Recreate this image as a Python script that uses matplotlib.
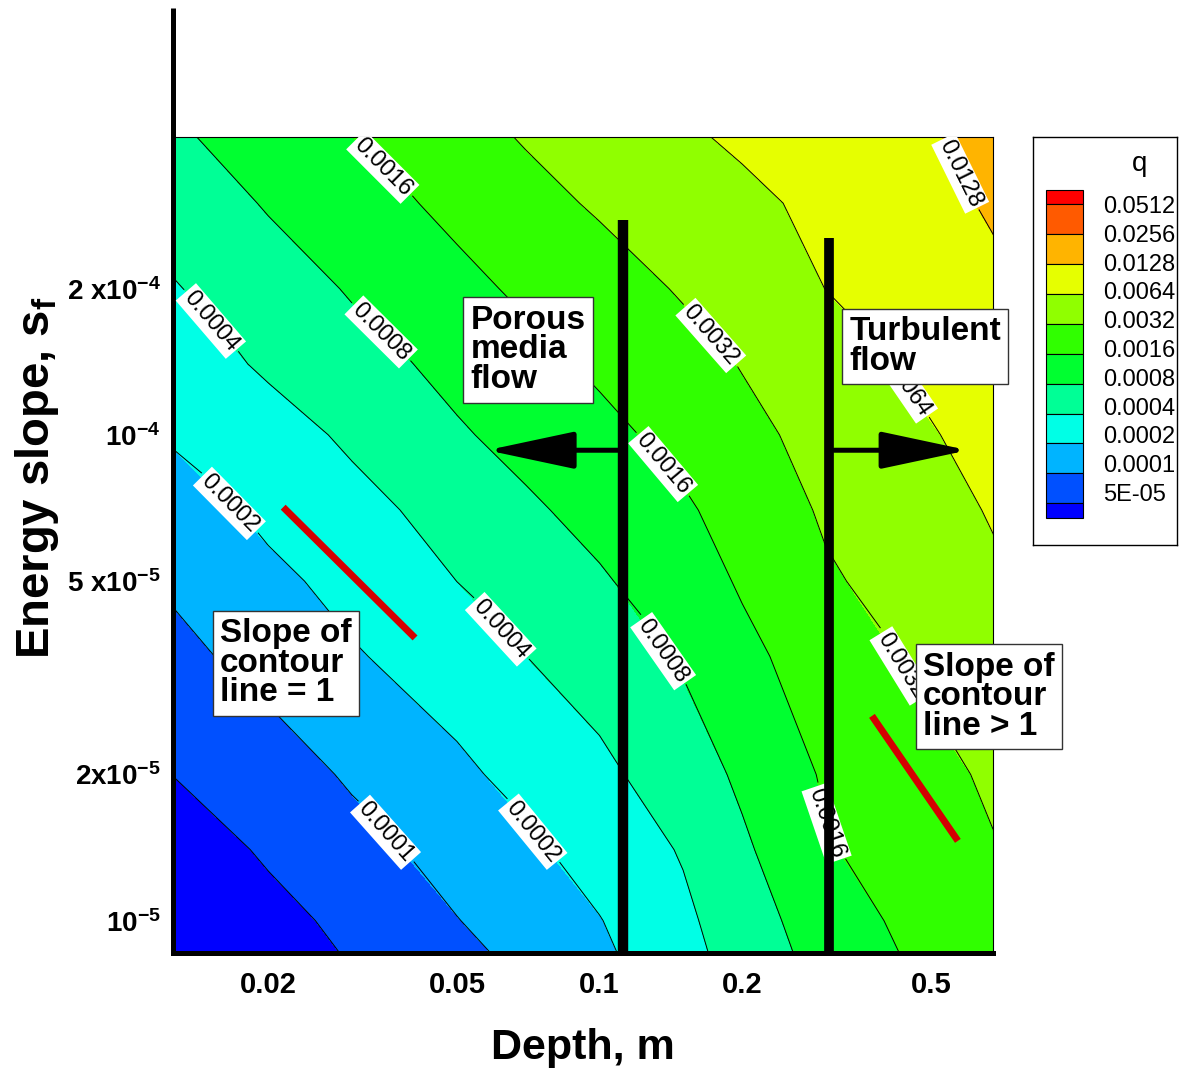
import numpy as np
import matplotlib
matplotlib.use('Agg')
import matplotlib.pyplot as plt
from matplotlib.patches import Rectangle

plt.rcParams['font.family'] = ['Liberation Sans', 'DejaVu Sans']
plt.rcParams['mathtext.fontset'] = 'custom'
plt.rcParams['mathtext.rm'] = 'Liberation Sans'
plt.rcParams['mathtext.bf'] = 'Liberation Sans:bold'
plt.rcParams['mathtext.default'] = 'bf'

# q on a coarse (depth, slope) grid
depth = [0.0125, 0.02, 0.03, 0.05, 0.07, 0.1, 0.15, 0.2, 0.3, 0.45, 0.68]
slope = [8.5e-6, 1e-5, 1.4e-5, 2e-5, 3.5e-5, 5e-5, 7e-5, 1e-4, 1.4e-4, 2e-4, 3e-4, 4.15e-4]
q = [
    [2.37e-5, 3.64e-5, 5.29e-5, 8.50e-5, 1.20e-4, 1.79e-4, 3.23e-4, 5.50e-4, 1.06e-3, 1.70e-3, 2.46e-3],
    [2.64e-5, 4.10e-5, 6.03e-5, 9.83e-5, 1.39e-4, 1.96e-4, 3.52e-4, 6.02e-4, 1.18e-3, 1.88e-3, 2.66e-3],
    [3.52e-5, 5.53e-5, 8.22e-5, 1.33e-4, 1.82e-4, 2.65e-4, 4.25e-4, 7.30e-4, 1.53e-3, 2.20e-3, 3.11e-3],
    [5.01e-5, 7.57e-5, 1.09e-4, 1.78e-4, 2.47e-4, 3.51e-4, 5.86e-4, 9.06e-4, 1.75e-3, 2.52e-3, 3.58e-3],
    [8.47e-5, 1.30e-4, 1.89e-4, 2.98e-4, 4.01e-4, 5.70e-4, 8.84e-4, 1.39e-3, 2.27e-3, 3.47e-3, 4.99e-3],
    [1.10e-4, 1.73e-4, 2.52e-4, 4.01e-4, 5.43e-4, 7.48e-4, 1.20e-3, 1.72e-3, 2.97e-3, 4.22e-3, 5.88e-3],
    [1.52e-4, 2.37e-4, 3.33e-4, 5.28e-4, 7.27e-4, 1.01e-3, 1.47e-3, 2.12e-3, 3.51e-3, 4.86e-3, 6.78e-3],
    [2.14e-4, 3.14e-4, 4.49e-4, 7.46e-4, 1.01e-3, 1.36e-3, 2.02e-3, 2.75e-3, 4.03e-3, 5.73e-3, 8.08e-3],
    [2.94e-4, 4.44e-4, 6.33e-4, 9.90e-4, 1.33e-3, 1.81e-3, 2.57e-3, 3.30e-3, 4.82e-3, 6.94e-3, 9.62e-3],
    [3.84e-4, 5.86e-4, 8.53e-4, 1.35e-3, 1.82e-3, 2.44e-3, 3.42e-3, 4.46e-3, 6.44e-3, 8.62e-3, 1.15e-2],
    [5.31e-4, 8.55e-4, 1.23e-3, 1.94e-3, 2.62e-3, 3.50e-3, 4.62e-3, 5.63e-3, 7.54e-3, 1.02e-2, 1.39e-2],
    [7.36e-4, 1.12e-3, 1.61e-3, 2.57e-3, 3.43e-3, 4.44e-3, 5.95e-3, 7.17e-3, 9.20e-3, 1.18e-2, 1.51e-2],
]

levels = [5e-5, 1e-4, 2e-4, 4e-4, 8e-4, 1.6e-3, 3.2e-3, 6.4e-3, 1.28e-2, 2.56e-2, 5.12e-2]
level_labels = ['5E-05', '0.0001', '0.0002', '0.0004', '0.0008', '0.0016',
                '0.0032', '0.0064', '0.0128', '0.0256', '0.0512']
# under, 10 bands, over
band_colors = ['#0000ff', '#0050ff', '#00b4ff', '#00ffe6', '#00ff96', '#00ff30',
               '#30ff00', '#90ff00', '#e6ff00', '#ffb400', '#ff5a00', '#ff0000']

# where the contour labels sit (depth, slope)
label_pos = [(0.0344, 3.51e-4), (0.0344, 1.62e-4), (0.01507, 1.71e-4), (0.0162, 7.07e-5),
             (0.0348, 1.50e-5), (0.0622, 4.00e-5), (0.0720, 1.52e-5), (0.1726, 1.61e-4),
             (0.1354, 8.67e-5), (0.1374, 3.61e-5), (0.2945, 1.57e-5), (0.5675, 3.43e-4),
             (0.424, 3.31e-5), (0.4408, 1.27e-4)]

xticks = [0.02, 0.05, 0.1, 0.2, 0.5]
xticklabels = ['0.02', '0.05', '0.1', '0.2', '0.5']
yticks = [2e-4, 1e-4, 5e-5, 2e-5, 1e-5]
yticklabels = ['2 x10$^{-4}$', '10$^{-4}$', '5 x10$^{-5}$', '2x10$^{-5}$', '10$^{-5}$']

W, H = 1179, 1071
fig = plt.figure(figsize=(W / 100, H / 100), dpi=100)
ax = fig.add_axes([173 / W, (H - 953) / H, 820 / W, 816 / H])
ax.set_xscale('log')
ax.set_yscale('log')
ax.set_xlim(0.012589, 0.676)
ax.set_ylim(8.58e-6, 4.105e-4)

D, S = np.meshgrid(depth, slope)
Z = np.log2(np.array(q))
zlev = np.log2(levels)

ax.contourf(D, S, Z, levels=zlev, colors=band_colors, extend='both', zorder=1)
cs = ax.contour(D, S, Z, levels=zlev, colors='k', linewidths=0.7,
                linestyles='solid', zorder=2)
fmt = {lv: lb for lv, lb in zip(cs.levels, level_labels)}
txts = ax.clabel(cs, manual=label_pos, fmt=fmt, inline=True, fontsize=17, colors='k')
for t in txts:
    t.set_bbox(dict(boxstyle='square,pad=0.1', fc='white', ec='none'))

ax.minorticks_off()
ax.set_xticks(xticks)
ax.set_xticklabels(xticklabels, fontsize=21, fontweight='bold')
ax.set_yticks(yticks)
ax.set_yticklabels(yticklabels, fontsize=20, fontweight='bold')
ax.tick_params(axis='x', length=0, pad=13)
ax.tick_params(axis='y', length=0, pad=9)

for side in ['top', 'right']:
    ax.spines[side].set_linewidth(0.8)
for side in ['left', 'bottom']:
    ax.spines[side].set_linewidth(3.6)
ax.plot([0, 0], [1, 1.158], transform=ax.transAxes, color='k', lw=3.6,
        clip_on=False, solid_capstyle='butt')

ax.set_xlabel('Depth, m', fontsize=31, fontweight='bold')
ax.xaxis.set_label_coords(0.5, -0.092)
ax.set_ylabel('Energy slope, s$_f$', fontsize=34, fontweight='bold')
ax.yaxis.set_label_coords(-0.137, 0.583)

# regime boundaries and arrows
ax.plot([0.112, 0.112], [2.77e-4, 8.58e-6], color='k', lw=7.5, solid_capstyle='butt', zorder=5)
ax.plot([0.305, 0.305], [2.54e-4, 8.58e-6], color='k', lw=7, solid_capstyle='butt', zorder=5)
arrow = dict(arrowstyle='-|>,head_length=5.4,head_width=1.15', mutation_scale=10,
             lw=3.6, color='k', shrinkA=0, shrinkB=0)
ax.annotate('', xy=(0.0579, 9.3e-5), xytext=(0.1094, 9.3e-5), arrowprops=arrow, zorder=5)
ax.annotate('', xy=(0.599, 9.3e-5), xytext=(0.3123, 9.3e-5), arrowprops=arrow, zorder=5)

# slope indicators
ax.plot([0.0215, 0.0408], [7.1e-5, 3.82e-5], color='#d40000', lw=5, solid_capstyle='butt', zorder=5)
ax.plot([0.3755, 0.570], [2.64e-5, 1.46e-5], color='#d40000', lw=5, solid_capstyle='butt', zorder=5)

box = dict(boxstyle='square,pad=0.22', fc='white', ec='#333333', lw=1)
for txt, xy in [('Porous\nmedia\nflow', (0.0706, 1.496e-4)),
                ('Turbulent\nflow', (0.486, 1.52e-4)),
                ('Slope of\ncontour\nline = 1', (0.0218, 3.39e-5)),
                ('Slope of\ncontour\nline > 1', (0.663, 2.89e-5))]:
    ax.text(xy[0], xy[1], txt, ha='center', va='center', ma='left', fontsize=24,
            fontweight='bold', linespacing=0.95, bbox=box, zorder=6, clip_on=False)

# legend box
lg = fig.add_axes([1033 / W, (H - 545) / H, 144 / W, 408 / H])
lg.set_xlim(0, 144)
lg.set_ylim(408, 0)
lg.set_xticks([])
lg.set_yticks([])
for sp in lg.spines.values():
    sp.set_linewidth(1)
lg.text(107, 27, 'q', fontsize=20, ha='center', va='center')
edges = [53] + [67 + 29.93 * i for i in range(11)] + [381]
cols = band_colors[::-1]
for i in range(12):
    lg.add_patch(Rectangle((13, edges[i]), 37, edges[i + 1] - edges[i],
                           fc=cols[i], ec='k', lw=0.8))
for i, lb in enumerate(level_labels[::-1]):
    lg.text(70, 70 + 28.8 * i, lb, fontsize=17, ha='left', va='center')

fig.savefig('out.png', dpi=100)
